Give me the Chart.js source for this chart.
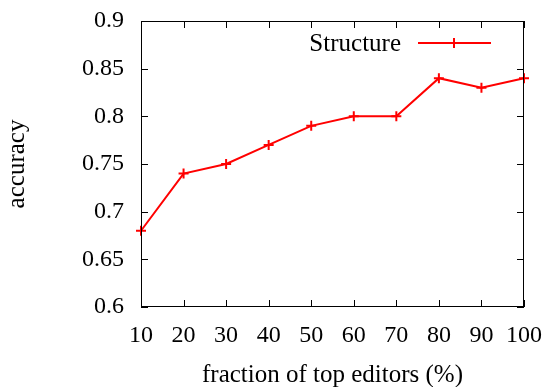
<!DOCTYPE html>
<html>
<head>
<meta charset="utf-8">
<script src="https://cdn.jsdelivr.net/npm/chart.js@4/dist/chart.umd.min.js"></script>
<style>
  html, body { margin: 0; padding: 0; background: #fff; }
  #wrap { width: 548px; height: 387px; }
</style>
</head>
<body>
<div id="wrap"><canvas id="accChart"></canvas></div>
<script>
// data
const fractions = [10, 20, 30, 40, 50, 60, 70, 80, 90, 100];
const accuracy = [0.68, 0.74, 0.75, 0.77, 0.79, 0.80, 0.80, 0.84, 0.83, 0.84];
const seriesName = 'Structure';
const yTicks = [0.6, 0.65, 0.7, 0.75, 0.8, 0.85, 0.9];

const serif = '"Liberation Serif", "DejaVu Serif", serif';

// gnuplot-like frame: inward ticks on all four sides + legend inside the plot
const gnuplotFrame = {
    id: 'gnuplotFrame',
    afterDatasetsDraw(chart) {
        const c = chart.ctx;
        const a = chart.chartArea;
        const xs = chart.scales.x, ys = chart.scales.y;
        const len = 7;
        c.save();
        c.strokeStyle = '#000';
        c.lineWidth = 1;
        c.strokeRect(a.left + 0.5, a.top + 0.5, a.right - a.left - 1, a.bottom - a.top - 1);
        c.beginPath();
        xs.ticks.forEach(t => {
            const px = Math.round(xs.getPixelForValue(t.value)) + 0.5;
            c.moveTo(px, a.bottom); c.lineTo(px, a.bottom - len);
            c.moveTo(px, a.top); c.lineTo(px, a.top + len);
        });
        ys.ticks.forEach(t => {
            const py = Math.round(ys.getPixelForValue(t.value)) + 0.5;
            c.moveTo(a.left, py); c.lineTo(a.left + len, py);
            c.moveTo(a.right, py); c.lineTo(a.right - len, py);
        });
        c.stroke();

        // legend (top right, inside the frame)
        const ds = chart.data.datasets[0];
        const ly = 43;
        const lx1 = 418, lx2 = 491;
        c.font = '25px ' + serif;
        c.fillStyle = '#000';
        c.textAlign = 'right';
        c.textBaseline = 'middle';
        c.fillText(ds.label, 401, ly + 1);
        c.strokeStyle = ds.borderColor;
        c.lineWidth = 2;
        c.beginPath();
        c.moveTo(lx1, ly); c.lineTo(lx2, ly);
        const mx = 454;
        c.moveTo(mx, ly - 5); c.lineTo(mx, ly + 5);
        c.stroke();
        c.restore();
    }
};

const ctx = document.getElementById('accChart').getContext('2d');
const accChart = new Chart(ctx, {
    type: 'line',
    data: {
        datasets: [{
            label: seriesName,
            data: fractions.map((f, i) => ({ x: f, y: accuracy[i] })),
            borderColor: '#ff0000',
            backgroundColor: '#ff0000',
            borderWidth: 2,
            pointStyle: 'cross',
            pointRadius: 5,
            pointBorderWidth: 2,
            pointHoverRadius: 5,
            tension: 0,
            clip: false
        }]
    },
    plugins: [gnuplotFrame],
    options: {
        responsive: true,
        maintainAspectRatio: false,
        animation: false,
        layout: { padding: { left: 0, right: 24, top: 21, bottom: 0 } },
        plugins: {
            legend: { display: false },
            tooltip: { enabled: false }
        },
        scales: {
            x: {
                type: 'linear',
                min: 10,
                max: 100,
                afterFit(s) {
                    s.height = 80;
                    s.paddingLeft = 0; s.paddingRight = 0;
                },
                afterBuildTicks(s) { s.ticks = fractions.map(v => ({ value: v })); },
                ticks: {
                    padding: 14,
                    color: '#000',
                    font: { family: serif, size: 24 },
                    maxRotation: 0,
                    autoSkip: false
                },
                grid: { drawOnChartArea: false, drawTicks: false },
                border: { display: false },
                title: {
                    display: true,
                    text: 'fraction of top editors (%)',
                    color: '#000',
                    font: { family: serif, size: 25 },
                    padding: { top: 6, bottom: -3 }
                }
            },
            y: {
                min: 0.6,
                max: 0.9,
                afterFit(s) {
                    s.width = 141;
                    s.paddingTop = 0; s.paddingBottom = 0;
                },
                afterBuildTicks(s) { s.ticks = yTicks.map(v => ({ value: v })); },
                ticks: {
                    padding: 17,
                    color: '#000',
                    font: { family: serif, size: 24 },
                    callback: v => String(+v.toFixed(2))
                },
                grid: { drawOnChartArea: false, drawTicks: false },
                border: { display: false },
                title: {
                    display: true,
                    text: 'accuracy',
                    color: '#000',
                    font: { family: serif, size: 25 },
                    padding: { top: 2, bottom: 0 }
                }
            }
        }
    }
});
</script>
</body>
</html>
